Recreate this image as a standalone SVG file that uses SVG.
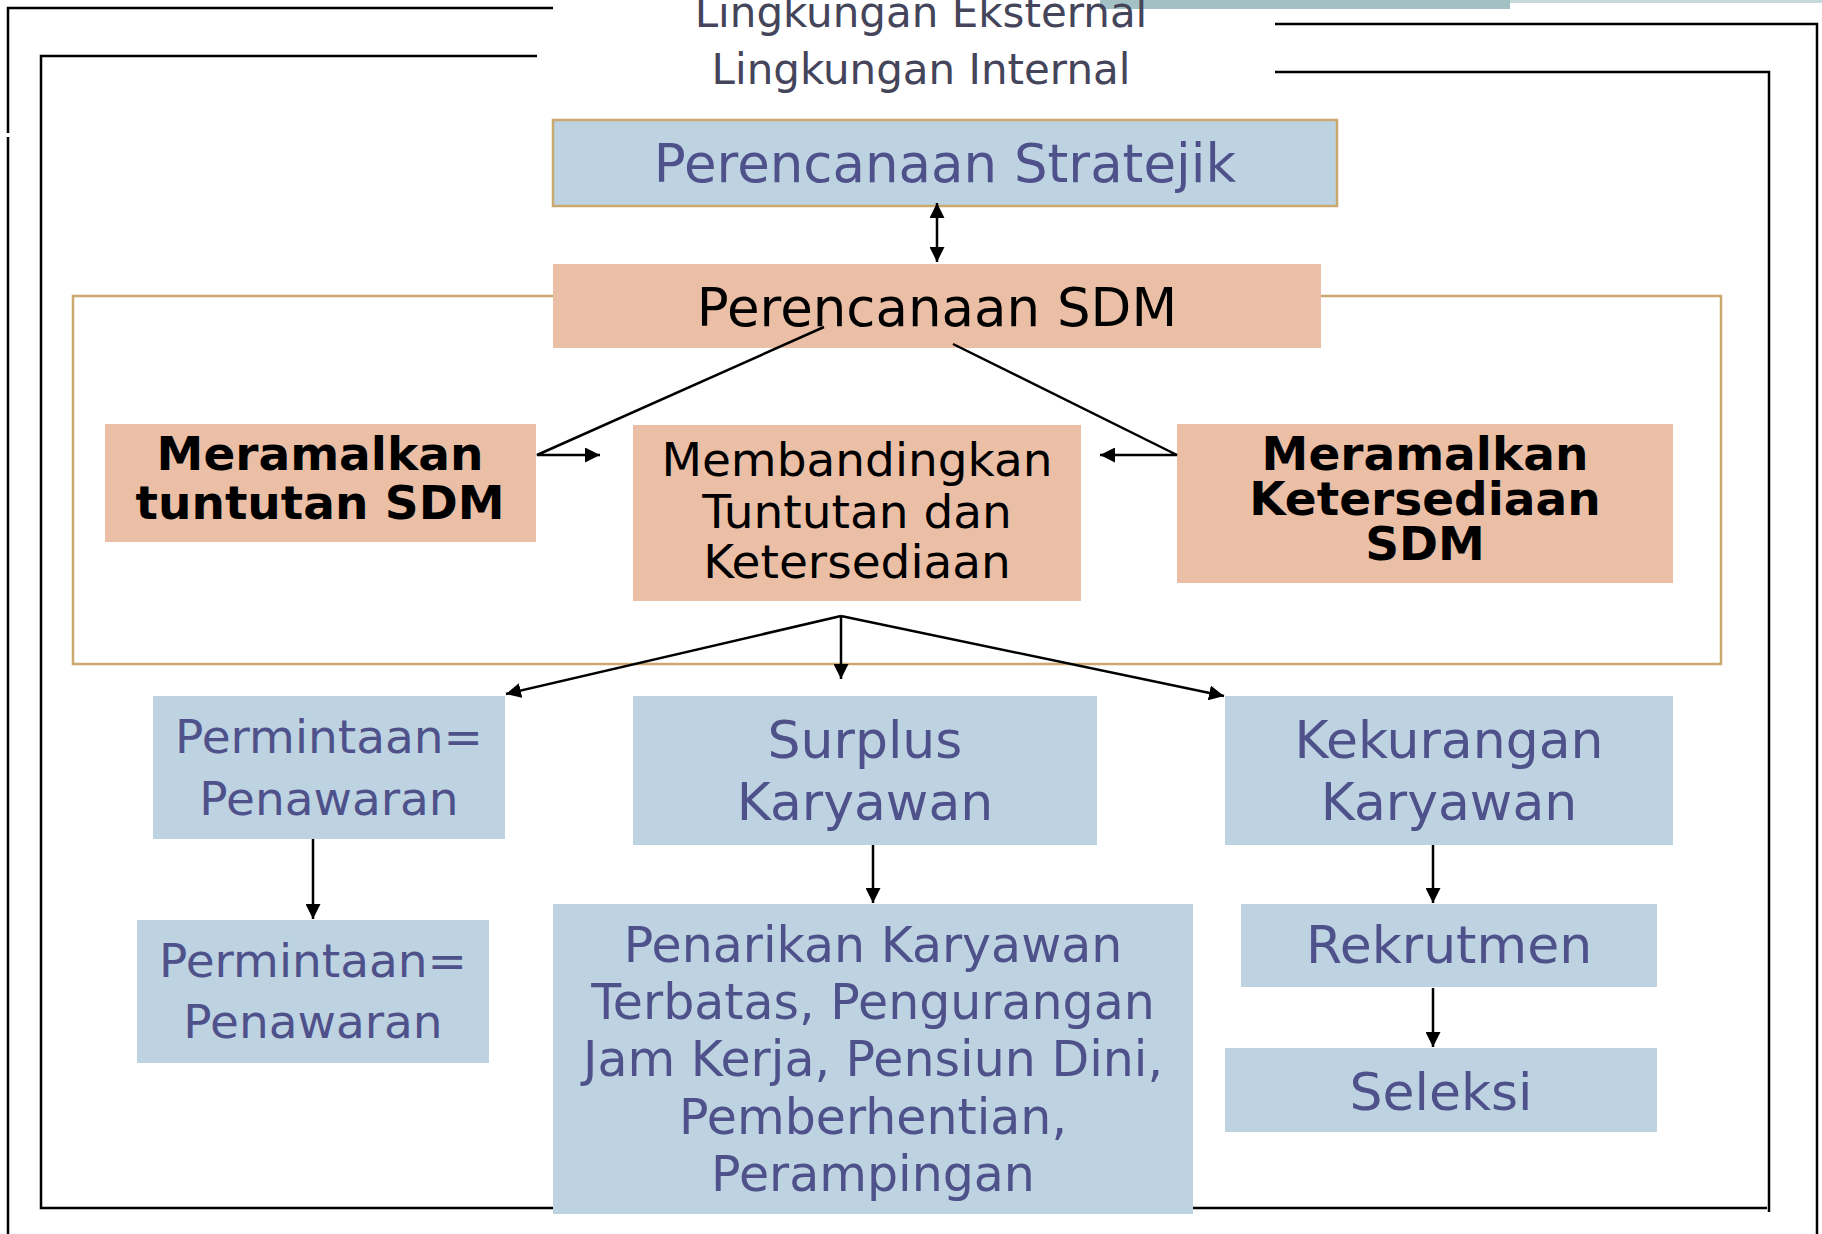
<svg xmlns="http://www.w3.org/2000/svg" width="1822" height="1234" viewBox="0 0 1822 1234">
<defs>
<style>
.frame{stroke:#000;stroke-width:2.5;fill:none}
.blue{fill:#bdd3e1}
.peach{fill:#ebbfa6}
.tb{font-family:"DejaVu Sans",Verdana,sans-serif;fill:#4f518b;text-anchor:middle}
.tk{font-family:"DejaVu Sans",Verdana,sans-serif;fill:#000;text-anchor:middle}
.bold{font-weight:bold}
.hdr{font-family:"DejaVu Sans",Verdana,sans-serif;fill:#44455a;text-anchor:middle;font-size:42px}
.conn{stroke:#000;stroke-width:2.5;fill:none}
</style>
<marker id="ah" viewBox="0 0 10 10" refX="10" refY="5" markerWidth="6" markerHeight="6" markerUnits="strokeWidth" orient="auto-start-reverse">
<path d="M0,0 L10,5 L0,10 z" fill="#000"/>
</marker>
</defs>
<rect width="1822" height="1234" fill="#fff"/>
<g id="header-bar">
<rect x="1100" y="0" width="410" height="9" fill="#a3c1c4"/>
<rect x="1510" y="0" width="312" height="3" fill="#c5d9da"/>
</g>
<g id="frames">
<path class="frame" d="M553,8 H8 V133 M8,137 V1234"/>
<path class="frame" d="M1275,24 H1817 V1234"/>
<path class="frame" d="M537,56 H41 V1208 H553"/>
<path class="frame" d="M1275,72 H1769 V1212 M1193,1208 H1767"/>
<rect x="73" y="296" width="1648" height="368" fill="none" stroke="#c9a970" stroke-width="2.5"/>
</g>
<g id="titles">
<text class="hdr" x="921" y="27">Lingkungan Eksternal</text>
<text class="hdr" x="921" y="84">Lingkungan Internal</text>
</g>
<g id="node-stratejik">
<rect x="553" y="120" width="784" height="86" class="blue" stroke="#c9a970" stroke-width="2.5"/>
<text class="tb" x="945" y="182" font-size="53">Perencanaan Stratejik</text>
</g>
<g id="node-sdm">
<rect x="553" y="264" width="768" height="84" class="peach"/>
<text class="tk" x="937" y="326" font-size="53">Perencanaan SDM</text>
</g>
<g id="node-tuntutan">
<rect x="105" y="424" width="431" height="118" class="peach"/>
<text class="tk bold" x="320" y="470" font-size="47">Meramalkan</text>
<text class="tk bold" x="320" y="519" font-size="47">tuntutan SDM</text>
</g>
<g id="node-membandingkan">
<rect x="633" y="425" width="448" height="176" class="peach"/>
<text class="tk" x="857" y="476" font-size="47">Membandingkan</text>
<text class="tk" x="857" y="528" font-size="47">Tuntutan dan</text>
<text class="tk" x="857" y="578" font-size="47">Ketersediaan</text>
</g>
<g id="node-ketersediaan">
<rect x="1177" y="424" width="496" height="159" class="peach"/>
<text class="tk bold" x="1425" y="470" font-size="47">Meramalkan</text>
<text class="tk bold" x="1425" y="515" font-size="47">Ketersediaan</text>
<text class="tk bold" x="1425" y="560" font-size="47">SDM</text>
</g>
<g id="node-permintaan1">
<rect x="153" y="696" width="352" height="143" class="blue"/>
<text class="tb" x="329" y="753" font-size="47">Permintaan=</text>
<text class="tb" x="329" y="815" font-size="47">Penawaran</text>
</g>
<g id="node-surplus">
<rect x="633" y="696" width="464" height="149" class="blue"/>
<text class="tb" x="865" y="758" font-size="52">Surplus</text>
<text class="tb" x="865" y="820" font-size="52">Karyawan</text>
</g>
<g id="node-kekurangan">
<rect x="1225" y="696" width="448" height="149" class="blue"/>
<text class="tb" x="1449" y="758" font-size="52">Kekurangan</text>
<text class="tb" x="1449" y="820" font-size="52">Karyawan</text>
</g>
<g id="node-permintaan2">
<rect x="137" y="920" width="352" height="143" class="blue"/>
<text class="tb" x="313" y="977" font-size="47">Permintaan=</text>
<text class="tb" x="313" y="1038" font-size="47">Penawaran</text>
</g>
<g id="node-penarikan">
<rect x="553" y="904" width="640" height="310" class="blue"/>
<text class="tb" x="873" y="962" font-size="49">Penarikan Karyawan</text>
<text class="tb" x="873" y="1019" font-size="49">Terbatas, Pengurangan</text>
<text class="tb" x="873" y="1076" font-size="49">Jam Kerja, Pensiun Dini,</text>
<text class="tb" x="873" y="1134" font-size="49">Pemberhentian,</text>
<text class="tb" x="873" y="1191" font-size="49">Perampingan</text>
</g>
<g id="node-rekrutmen">
<rect x="1241" y="904" width="416" height="83" class="blue"/>
<text class="tb" x="1449" y="963" font-size="52">Rekrutmen</text>
</g>
<g id="node-seleksi">
<rect x="1225" y="1048" width="432" height="84" class="blue"/>
<text class="tb" x="1441" y="1110" font-size="52">Seleksi</text>
</g>
<g id="connectors">
<line class="conn" x1="937" y1="203" x2="937" y2="262" marker-start="url(#ah)" marker-end="url(#ah)"/>
<polyline class="conn" points="824,327 537,455 600,455" marker-end="url(#ah)"/>
<polyline class="conn" points="953,344 1177,455 1100,455" marker-end="url(#ah)"/>
<line class="conn" x1="841" y1="616" x2="506" y2="694" marker-end="url(#ah)"/>
<line class="conn" x1="841" y1="616" x2="841" y2="679" marker-end="url(#ah)"/>
<line class="conn" x1="841" y1="616" x2="1224" y2="696" marker-end="url(#ah)"/>
<line class="conn" x1="313" y1="839" x2="313" y2="919" marker-end="url(#ah)"/>
<line class="conn" x1="873" y1="845" x2="873" y2="903" marker-end="url(#ah)"/>
<line class="conn" x1="1433" y1="845" x2="1433" y2="903" marker-end="url(#ah)"/>
<line class="conn" x1="1433" y1="988" x2="1433" y2="1047" marker-end="url(#ah)"/>
</g>
</svg>
